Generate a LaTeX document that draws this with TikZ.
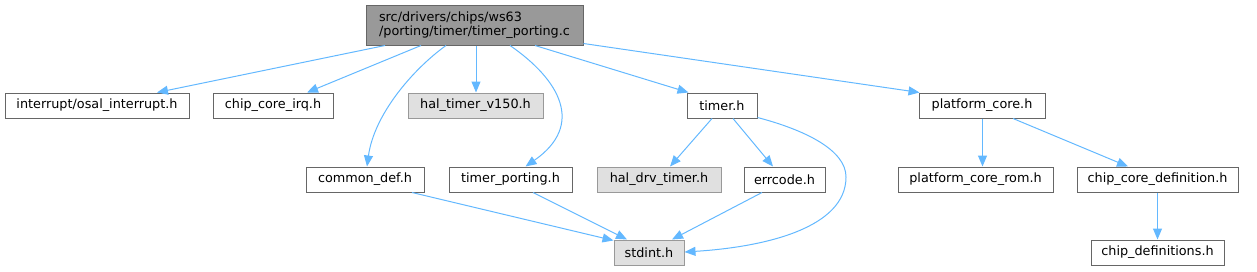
\documentclass[tikz,border=0pt]{standalone}
\usepackage{fontspec}
\setmainfont{DejaVu Sans}
\usetikzlibrary{arrows.meta,calc}
\definecolor{edgeblue}{HTML}{63B8FF}
\definecolor{boxgray}{HTML}{666666}
\definecolor{lightfill}{HTML}{E0E0E0}
\definecolor{lightborder}{HTML}{999999}
\definecolor{rootfill}{HTML}{999999}
\tikzset{
  filebox/.style={draw=boxgray, fill=white, line width=1pt, inner sep=0pt,
    minimum height=25pt, font=\fontsize{12.8}{14}\selectfont},
  extbox/.style={filebox, draw=lightborder, fill=lightfill},
  rootbox/.style={filebox, fill=rootfill, minimum height=40pt, align=left},
  dep/.style={draw=edgeblue, line width=1pt, -{Triangle[length=11pt,width=9pt]}},
}
\begin{document}
\begin{tikzpicture}[x=1pt,y=-1pt]
\useasboundingbox (0,0) rectangle (1257,271);
% nodes
\node[rootbox, minimum width=217pt] (root) at (474.5,25) {src/drivers/chips/ws63\\/porting/timer/timer\_porting.c};
\node[filebox, minimum width=184pt] (osal) at (97,105.5) {interrupt/osal\_interrupt.h};
\node[filebox, minimum width=120pt] (irq) at (273,105.5) {chip\_core\_irq.h};
\node[extbox, minimum width=135pt] (v150) at (475.5,105.5) {hal\_timer\_v150.h};
\node[filebox, minimum width=70pt] (timer) at (722,105.5) {timer.h};
\node[filebox, minimum width=126pt] (pcore) at (982,105.5) {platform\_core.h};
\node[filebox, minimum width=118pt] (common) at (365,179.5) {common\_def.h};
\node[filebox, minimum width=123pt] (tport) at (510.5,179.5) {timer\_porting.h};
\node[extbox, minimum width=124pt] (drv) at (659,179.5) {hal\_drv\_timer.h};
\node[filebox, minimum width=81pt] (err) at (784.5,179.5) {errcode.h};
\node[filebox, minimum width=155pt] (rom) at (975.5,179.5) {platform\_core\_rom.h};
\node[filebox, minimum width=161pt] (ccdef) at (1157.5,179.5) {chip\_core\_definition.h};
\node[extbox, minimum width=70pt] (stdint) at (649,252.5) {stdint.h};
\node[filebox, minimum width=133pt] (cdefs) at (1157.5,252.5) {chip\_definitions.h};
% edges
\draw[dep] ($(root.south)+(-89.5,0)$) -- ($(osal.north)+(60,0)$);
\draw[dep] ($(root.south)+(-53.5,0)$) -- ($(irq.north)+(34,0)$);
\draw[dep] ($(root.south)+(-28.5,0)$) .. controls (412,70) and (374,115) .. ($(common.north)+(2,0)$);
\draw[dep] ($(root.south)+(1.5,0)$) -- ($(v150.north)+(0.5,0)$);
\draw[dep] ($(root.south)+(35.5,0)$) .. controls (560,80) and (585,125) .. ($(tport.north)+(15,0)$);
\draw[dep] ($(root.south)+(60.5,0)$) -- ($(timer.north west)+(2,0)$);
\draw[dep] ($(root.south east)+(0,-2)$) -- ($(pcore.north west)+(1,0)$);
\draw[dep] ($(timer.south)+(-10,0)$) -- ($(drv.north)+(11,0)$);
\draw[dep] ($(timer.south)+(11,0)$) -- ($(err.north)+(-11.5,0)$);
\draw[dep] ($(timer.south east)+(0,-1)$) .. controls (805,130) and (846,150) .. (846,177)
  .. controls (846,228) and (765,247) .. ($(stdint.east)+(0,-0.5)$);
\draw[dep] ($(common.south)+(47,0)$) -- ($(stdint.north west)+(0,1)$);
\draw[dep] ($(tport.south)+(22.5,0)$) -- ($(stdint.north)+(-22,0)$);
\draw[dep] ($(err.south)+(-22.5,0)$) -- ($(stdint.north)+(23,0)$);
\draw[dep] ($(pcore.south)+(0.5,0)$) -- ($(rom.north)+(7,0)$);
\draw[dep] ($(pcore.south)+(31,0)$) -- ($(ccdef.north)+(-29.5,0)$);
\draw[dep] (ccdef.south) -- (cdefs.north);
\end{tikzpicture}
\end{document}
